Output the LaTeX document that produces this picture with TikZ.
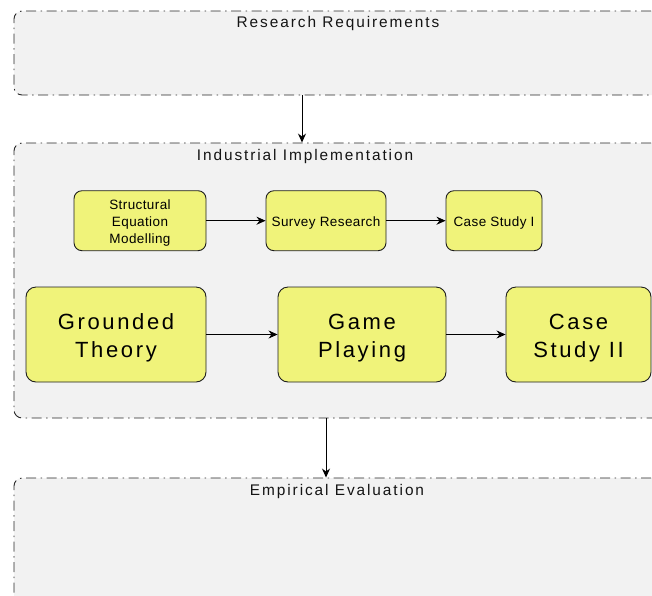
\documentclass[tikz,border=0pt]{standalone}
\usepackage{fontspec}
\setmainfont{Liberation Sans}
\newfontfamily\titlefont[LetterSpace=12.5]{Liberation Sans}
\newfontfamily\bigfont[LetterSpace=12]{Liberation Sans}
\newfontfamily\smallfont[LetterSpace=3]{Liberation Sans}
\usetikzlibrary{arrows.meta}
\definecolor{contfill}{RGB}{242,242,242}
\definecolor{contline}{RGB}{40,40,40}
\definecolor{boxfill}{RGB}{240,243,122}
\definecolor{boxline}{RGB}{30,30,30}
\definecolor{txt}{RGB}{20,20,20}
\newcommand\boxlines[2]{\raisebox{#1}[\height][\depth]{\begin{tabular}{@{}c@{}}#2\end{tabular}}}
\tikzset{
  container/.style={draw=contline, fill=contfill, line width=0.9pt, rounded corners=8pt,
    dash pattern=on 10pt off 4.5pt on 1.5pt off 4.5pt, inner sep=0pt},
  title/.style={anchor=base, inner sep=0pt, text=txt, font=\titlefont\fontsize{15.4}{18}\selectfont},
  smallbox/.style={draw=boxline, fill=boxfill, line width=0.9pt, rounded corners=8pt, inner sep=0pt,
    text=black, minimum height=60pt, font=\smallfont\fontsize{13.5}{17}\selectfont},
  bigbox/.style={draw=boxline, fill=boxfill, line width=0.9pt, rounded corners=10pt, inner sep=0pt,
    text=black, minimum height=95pt, font=\bigfont\fontsize{22}{28.5}\selectfont},
  arr/.style={draw=black, line width=0.9pt, -{Stealth[length=9pt,width=8pt]}}
}
\begin{document}
\begin{tikzpicture}[x=1pt,y=-1pt]
\useasboundingbox (0,0) rectangle (652,595);
\clip (0,0) rectangle (652,595);
% containers
\node[container, minimum width=686pt, minimum height=84pt] (top) at (357,53) {};
\node[container, minimum width=686pt, minimum height=275pt] (mid) at (357,280.5) {};
\node[container, minimum width=686pt, minimum height=170pt] (bot) at (357,563) {};
\node[title] (ttop) at (338,27.7) {Research Requirements};
\node[title] (tmid) at (305,160) {Industrial Implementation};
\node[title] (tbot) at (337,495) {Empirical Evaluation};
% small boxes
\node[smallbox, minimum width=132pt] (sem) at (140,220.7) {\boxlines{-2.5pt}{Structural\\Equation\\Modelling}};
\node[smallbox, minimum width=120pt] (sr) at (326,220.7) {\boxlines{-2.5pt}{Survey Research}};
\node[smallbox, minimum width=96pt] (cs1) at (494,220.7) {\boxlines{-2.5pt}{Case Study I}};
% big boxes
\node[bigbox, minimum width=180pt] (gt) at (116,334.5) {\boxlines{-3.5pt}{Grounded\\Theory}};
\node[bigbox, minimum width=168pt] (gp) at (362,334.5) {\boxlines{-3.5pt}{Game\\Playing}};
\node[bigbox, minimum width=145pt] (cs2) at (578.5,334.5) {\boxlines{-3.5pt}{Case\\Study II}};
% arrows
\draw[arr] (sem) -- (sr);
\draw[arr] (sr) -- (cs1);
\draw[arr] (gt) -- (gp);
\draw[arr] (gp) -- (cs2);
\draw[arr] (top.south -| 302,0) -- (mid.north -| 302,0);
\draw[arr] (mid.south -| sr.south) -- (bot.north -| sr.south);
\end{tikzpicture}
\end{document}
